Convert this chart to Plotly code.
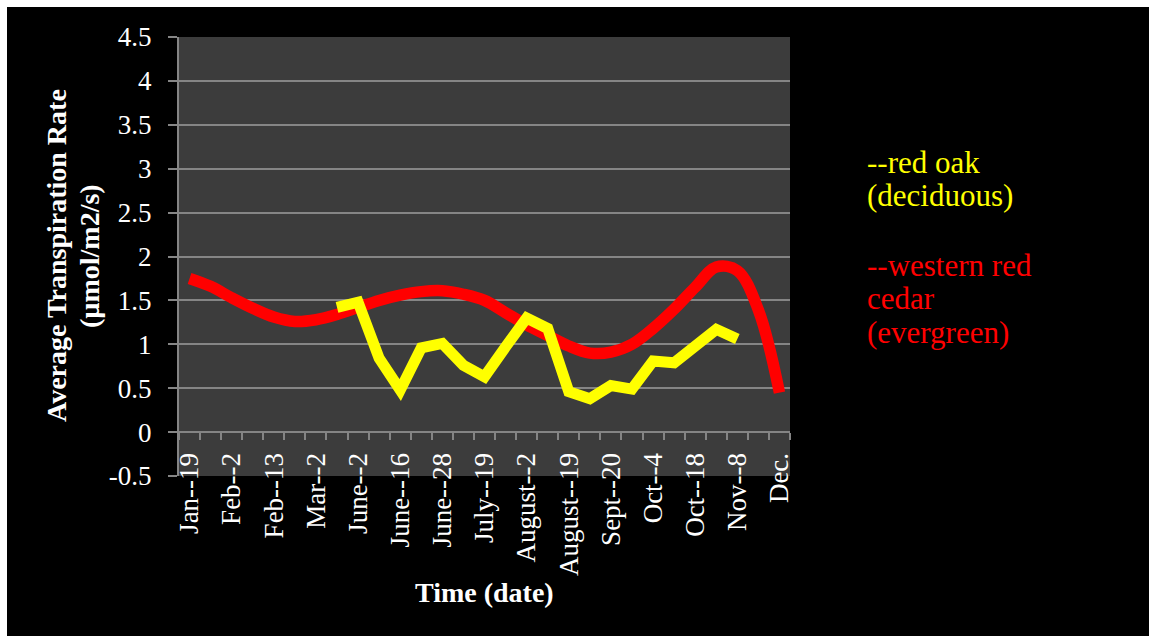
import plotly.graph_objects as go

# Sampling dates along the horizontal axis (every other one is labelled)
date_labels = ["Jan--19", "Feb--2", "Feb--13", "Mar--2", "June--2", "June--16",
               "June--28", "July--19", "August--2", "August--19", "Sept--20",
               "Oct--4", "Oct--18", "Nov--8", "Dec."]
label_positions = [0, 2, 4, 6, 8, 10, 12, 14, 16, 18, 20, 22, 24, 26, 28]

# western red cedar (evergreen), one value per sampling slot 0..28
cedar_x = list(range(29))
cedar_y = [1.75, 1.66, 1.53, 1.41, 1.31, 1.26, 1.28, 1.34, 1.42, 1.50,
           1.56, 1.60, 1.61, 1.57, 1.50, 1.36, 1.22, 1.10, 0.98, 0.90,
           0.91, 1.00, 1.18, 1.40, 1.65, 1.88, 1.84, 1.39, 0.45]

# red oak (deciduous), slots 7..26
oak_x = list(range(7, 27))
oak_y = [1.42, 1.48, 0.84, 0.48, 0.96, 1.01, 0.76, 0.63, 0.97, 1.30,
         1.18, 0.46, 0.38, 0.53, 0.49, 0.81, 0.79, 0.99, 1.17, 1.06]

y_ticks = [-0.5, 0, 0.5, 1, 1.5, 2, 2.5, 3, 3.5, 4, 4.5]
y_tick_text = ["-0.5", "0", "0.5", "1", "1.5", "2", "2.5", "3", "3.5", "4", "4.5"]

W, H = 1149, 636
L, R, T, B = 179, 359, 37, 160
PW, PH = W - L - R, H - T - B


def px_x(px):
    return (px - L) / PW


def px_y(py):
    return (H - B - py) / PH


GRID = "#858585"
SERIF = "Liberation Serif"

fig = go.Figure()
fig.add_trace(go.Scatter(x=cedar_x, y=cedar_y, mode="lines",
                         line=dict(color="#ff0000", width=11.5, shape="spline", smoothing=1.0),
                         showlegend=False))
fig.add_trace(go.Scatter(x=oak_x, y=oak_y, mode="lines",
                         line=dict(color="#ffff00", width=11),
                         showlegend=False))

fig.update_layout(
    width=W, height=H,
    margin=dict(l=L, r=R, t=T, b=B, pad=0),
    paper_bgcolor="#000000",
    plot_bgcolor="#3c3c3c",
    font=dict(family=SERIF, color="#ffffff", size=27),
    showlegend=False,
)

fig.update_xaxes(
    range=[-0.5, 28.5],
    tickmode="array", tickvals=label_positions, ticktext=date_labels,
    tickangle=-90,
    ticks="outside", ticklen=7, tickcolor="rgba(0,0,0,0)",
    ticklabelstandoff=2,
    minor=dict(tickmode="linear", tick0=-0.5, dtick=1, ticks="outside",
               ticklen=7, tickwidth=2, tickcolor=GRID, showgrid=False),
    showgrid=False, zeroline=False,
    showline=True, linecolor=GRID, linewidth=2,
    anchor="free", position=0.1,
    tickfont=dict(family=SERIF, size=27, color="#ffffff"),
)

fig.update_yaxes(
    range=[-0.5, 4.5],
    tickmode="array", tickvals=y_ticks, ticktext=y_tick_text,
    ticks="outside", ticklen=9, tickwidth=2, tickcolor=GRID,
    ticklabelstandoff=11,
    showgrid=True, gridcolor=GRID, gridwidth=2,
    zeroline=False,
    showline=True, linecolor=GRID, linewidth=2,
    tickfont=dict(family=SERIF, size=27, color="#ffffff"),
)

annotations = [
    dict(text="<b>Average Transpiration Rate</b>", x=px_x(57), y=px_y(256)),
    dict(text="<b>(µmol/m2/s)</b>", x=px_x(90), y=px_y(256)),
]
for a in annotations:
    a.update(xref="paper", yref="paper", textangle=-90, showarrow=False,
             xanchor="center", yanchor="middle",
             font=dict(family=SERIF, size=28, color="#ffffff"))

annotations.append(dict(text="<b>Time (date)</b>", x=px_x(484), y=px_y(592),
                        xref="paper", yref="paper", showarrow=False,
                        xanchor="center", yanchor="middle",
                        font=dict(family=SERIF, size=28, color="#ffffff")))

legend_lines = [
    ("--red oak", "#ffff00", 162),
    ("(deciduous)", "#ffff00", 195),
    ("--western red", "#ff0000", 265),
    ("cedar", "#ff0000", 298),
    ("(evergreen)", "#ff0000", 332),
]
for txt, col, py in legend_lines:
    annotations.append(dict(text=txt, x=px_x(865), y=px_y(py),
                            xref="paper", yref="paper", showarrow=False,
                            xanchor="left", yanchor="middle",
                            font=dict(family=SERIF, size=31, color=col)))

fig.update_layout(annotations=annotations)

# white frame along the top and left edges of the page
fig.add_shape(type="rect", xref="paper", yref="paper", layer="above",
              x0=px_x(0), x1=px_x(7), y0=px_y(H), y1=px_y(0),
              fillcolor="#ffffff", line_width=0)
fig.add_shape(type="rect", xref="paper", yref="paper", layer="above",
              x0=px_x(0), x1=px_x(W), y0=px_y(7), y1=px_y(0),
              fillcolor="#ffffff", line_width=0)

fig.write_html("out.html")
